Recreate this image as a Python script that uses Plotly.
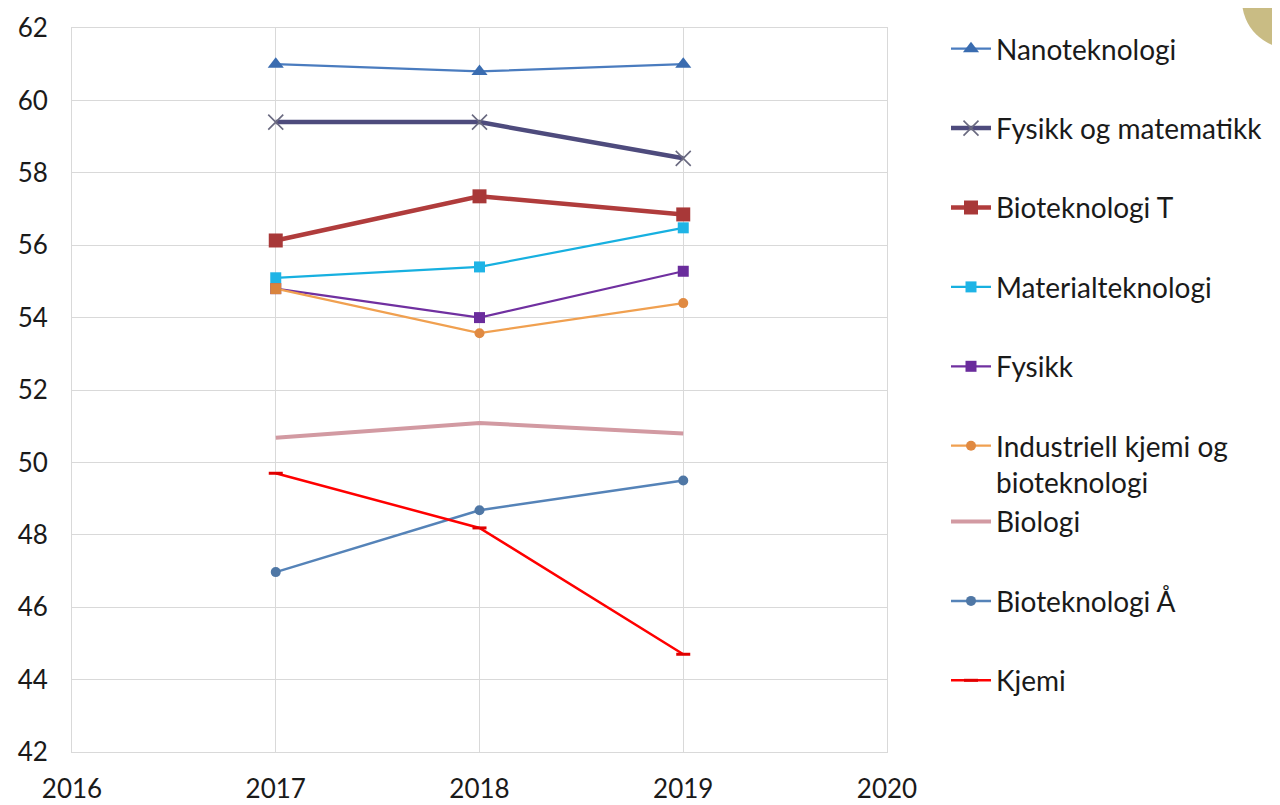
import plotly.graph_objects as go

years = [2017, 2018, 2019]

series_names = [
    "Nanoteknologi",
    "Fysikk og matematikk",
    "Bioteknologi T",
    "Materialteknologi",
    "Fysikk",
    "Industriell kjemi og<br>bioteknologi",
    "Biologi",
    "Bioteknologi Å",
    "Kjemi",
]

nanoteknologi = [61.0, 60.8, 61.0]
fysikk_og_matematikk = [59.4, 59.4, 58.4]
bioteknologi_t = [56.13, 57.35, 56.85]
materialteknologi = [55.1, 55.4, 56.48]
fysikk = [54.8, 54.0, 55.28]
industriell_kjemi = [54.8, 53.57, 54.4]
biologi = [50.68, 51.09, 50.8]
bioteknologi_aa = [46.97, 48.68, 49.5]
kjemi = [49.7, 48.19, 44.7]

x_ticks = [2016, 2017, 2018, 2019, 2020]
y_ticks = [42, 44, 46, 48, 50, 52, 54, 56, 58, 60, 62]

values = [nanoteknologi, fysikk_og_matematikk, bioteknologi_t, materialteknologi,
          fysikk, industriell_kjemi, biologi, bioteknologi_aa, kjemi]

styles = [
    dict(line=dict(color="#4a7cbf", width=2.2),
         marker=dict(symbol="triangle-up", size=14, color="#3a6cb0")),
    dict(line=dict(color="#4e4b7d", width=4.5),
         marker=dict(symbol="x-thin", size=15, line=dict(color="#6a6a80", width=1.6))),
    dict(line=dict(color="#b03c3c", width=4.5),
         marker=dict(symbol="square", size=14, color="#a83838")),
    dict(line=dict(color="#17b0e0", width=2.2),
         marker=dict(symbol="square", size=11, color="#1fb4e6")),
    dict(line=dict(color="#7030a0", width=2.2),
         marker=dict(symbol="square", size=11, color="#6a2c9c")),
    dict(line=dict(color="#f0a050", width=2.2),
         marker=dict(symbol="circle", size=10, color="#e08a42")),
    dict(line=dict(color="#d29aa2", width=4), marker=None),
    dict(line=dict(color="#5583b8", width=2.5),
         marker=dict(symbol="circle", size=10, color="#4f77a5")),
    dict(line=dict(color="#ff0000", width=2.5),
         marker=dict(symbol="line-ew", size=10, line=dict(color="#e00000", width=3))),
]

groups = ["g1", "g2", "g3", "g4", "g5", "g6", "g6", "g7", "g8"]

fig = go.Figure()
for name, vals, st, grp in zip(series_names, values, styles, groups):
    mode = "lines+markers" if st["marker"] is not None else "lines"
    kw = dict(x=years, y=vals, name=name, mode=mode, line=st["line"], legendgroup=grp)
    if st["marker"] is not None:
        kw["marker"] = st["marker"]
    fig.add_trace(go.Scatter(**kw))
    if name.startswith("Industriell"):
        # the first point of this series is drawn with a square marker
        fig.add_trace(go.Scatter(
            x=years[:1], y=vals[:1], mode="markers", showlegend=False,
            legendgroup=grp, hoverinfo="skip",
            marker=dict(symbol="square", size=11, color="#d9843e"),
        ))

# page has an 8px body margin, so figure coords = page coords - 8
# target plot area on page: x 72..887, y 28..752
fig.update_layout(
    width=1280, height=805,
    margin=dict(l=64, r=401, t=20, b=61, autoexpand=False),
    paper_bgcolor="white", plot_bgcolor="white",
    font=dict(family="Lato, Open Sans, sans-serif", size=26, color="#1a1a1a"),
    showlegend=True,
    legend=dict(
        xref="container", yref="container",
        x=938 / 1280, y=1 - 16 / 805,
        xanchor="left", yanchor="top",
        font=dict(size=28, color="#1a1a1a"),
        tracegroupgap=40,
        valign="top",
        itemwidth=40,
        maxheight=1,
        bgcolor="rgba(0,0,0,0)",
    ),
    shapes=[dict(
        type="circle", xref="paper", yref="paper",
        x0=1.4356, x1=1.5534, y0=0.9718, y1=1.1044,
        fillcolor="#c9bc84", line=dict(width=0), layer="below",
    )],
)

fig.update_xaxes(
    range=[2016, 2020], tickvals=x_ticks, ticktext=[str(t) for t in x_ticks],
    showgrid=True, gridcolor="#d9d9d9", gridwidth=1,
    showline=True, linecolor="#d9d9d9", linewidth=1, mirror=True,
    zeroline=False, ticks="", ticklabelstandoff=14, automargin=False,
    tickfont=dict(size=26),
)
fig.update_yaxes(
    range=[42, 62], tickvals=y_ticks,
    showgrid=True, gridcolor="#d9d9d9", gridwidth=1,
    showline=True, linecolor="#d9d9d9", linewidth=1, mirror=True,
    zeroline=False, ticks="", ticklabelstandoff=18, automargin=False,
    tickfont=dict(size=26),
)

fig.write_html("out.html")
